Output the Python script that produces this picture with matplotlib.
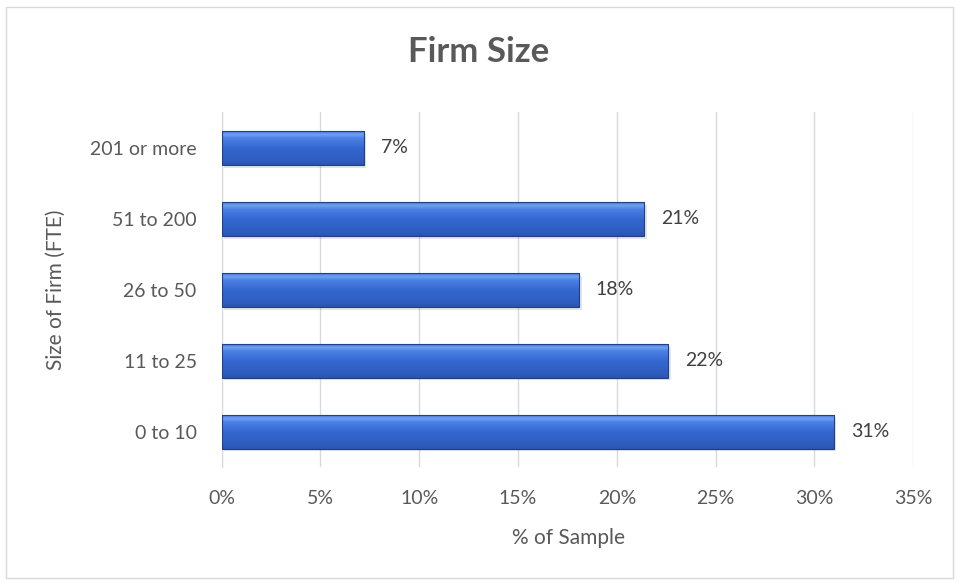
import matplotlib.pyplot as plt
import numpy as np
from matplotlib.colors import LinearSegmentedColormap
from matplotlib.patches import Rectangle
from matplotlib.ticker import FuncFormatter

plt.rcParams['font.family'] = ['Lato', 'DejaVu Sans']

categories = ["0 to 10", "11 to 25", "26 to 50", "51 to 200", "201 or more"]
values = [31.0, 22.6, 18.1, 21.4, 7.2]
labels = ["31%", "22%", "18%", "21%", "7%"]
xticks = [0, 5, 10, 15, 20, 25, 30, 35]

grey = '#595959'
W, H = 957, 581

fig = plt.figure(figsize=(W / 100, H / 100), dpi=100)
fig.patches.append(Rectangle((6 / W, 3 / H), 1 - 10 / W, 1 - 10 / H, transform=fig.transFigure,
                             fill=False, edgecolor='#D9D9D9', linewidth=1))
ax = fig.add_axes([0.2317, 0.1954, 0.7224, 0.611])

# gradient from top (light) to bottom (dark)
cmap = LinearSegmentedColormap.from_list('bevel', [
    (0.0, '#2A55AE'), (0.12, '#2E5DBF'), (0.5, '#3467D0'),
    (0.8, '#4C82E6'), (0.9, '#6FA0F2'), (1.0, '#4A7EE0')])
grad = np.linspace(0, 1, 64).reshape(-1, 1)

h = 0.47
y = np.arange(len(categories))
# shadow
ax.barh(y - 0.04, values, height=h, left=0.12, color='#000000', alpha=0.10, zorder=2)
bars = ax.barh(y, values, height=h, color='none', edgecolor='#1F3F86', linewidth=0.8, zorder=4)
for b in bars:
    x0, y0 = b.get_x(), b.get_y()
    im = ax.imshow(grad, cmap=cmap, origin='lower', aspect='auto',
                   extent=[x0, x0 + b.get_width(), y0, y0 + b.get_height()], zorder=3)
    im.set_clip_path(b)

for yi, v, lab in zip(y, values, labels):
    ax.annotate(lab, (v, yi), xytext=(12, 0), textcoords='offset points',
                va='center', ha='left', fontsize=14, color='#404040')

ax.set_xlim(0, 35)
ax.set_ylim(-0.5, len(categories) - 0.5)
ax.set_xticks(xticks)
ax.xaxis.set_major_formatter(FuncFormatter(lambda v, p: f"{v:.0f}%"))
ax.set_yticks(y)
ax.set_yticklabels(categories)
ax.tick_params(axis='both', length=0, labelsize=14, labelcolor=grey)
ax.tick_params(axis='x', pad=16)
ax.tick_params(axis='y', pad=18)
ax.grid(axis='x', color='#D9D9D9', linewidth=1, zorder=0)
ax.set_axisbelow(True)
for s in ['top', 'right', 'bottom']:
    ax.spines[s].set_visible(False)
ax.spines['left'].set_color('#D9D9D9')
ax.spines['left'].set_zorder(1)

fig.text(568 / W, 1 - 544 / H, "% of Sample", ha='center', va='baseline',
         fontsize=15, color=grey)
fig.text(56 / W, 1 - 290 / H, "Size of Firm (FTE)", ha='center', va='center',
         rotation=90, fontsize=15, color=grey)
fig.text(0.5, 1 - 62 / H, "Firm Size", ha='center', va='baseline', fontsize=25,
         fontweight='bold', color=grey)

fig.savefig('out.png', dpi=100)
